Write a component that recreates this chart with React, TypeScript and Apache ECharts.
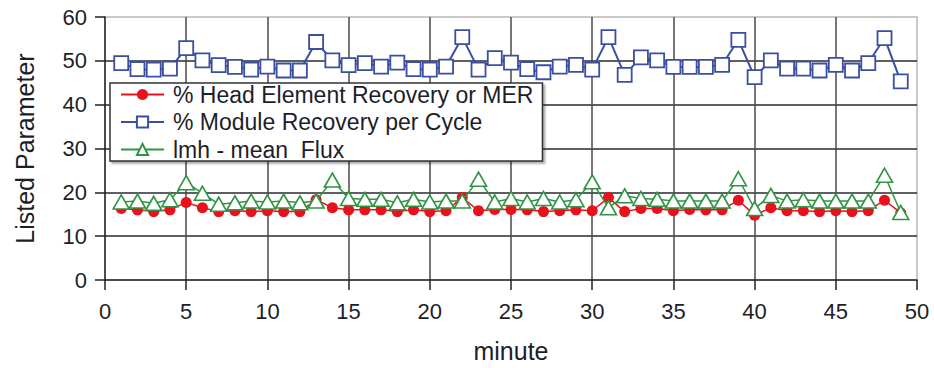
import React, { useEffect, useRef } from "react";
import * as echarts from "echarts";

const minutes = [1, 2, 3, 4, 5, 6, 7, 8, 9, 10, 11, 12, 13, 14, 15, 16, 17, 18, 19, 20, 21, 22, 23, 24, 25, 26, 27, 28, 29, 30, 31, 32, 33, 34, 35, 36, 37, 38, 39, 40, 41, 42, 43, 44, 45, 46, 47, 48, 49];

const headRecovery = [16.3, 16.0, 15.6, 16.0, 17.7, 16.5, 15.6, 15.8, 15.6, 15.8, 15.6, 15.6, 18.3, 16.5, 16.0, 16.0, 16.0, 15.6, 16.0, 15.6, 15.8, 18.8, 15.8, 16.1, 16.1, 16.0, 15.6, 15.8, 16.0, 15.8, 18.8, 15.6, 16.3, 16.3, 15.8, 16.1, 16.0, 16.0, 18.2, 14.8, 16.5, 15.8, 15.8, 15.6, 15.8, 15.6, 15.8, 18.2, 15.3];

const moduleRecovery = [49.5, 48.1, 48.0, 48.2, 52.9, 50.1, 49.0, 48.6, 48.0, 48.7, 47.8, 47.8, 54.3, 50.1, 49.0, 49.5, 48.7, 49.6, 48.1, 48.0, 48.7, 55.4, 48.0, 50.6, 49.6, 48.1, 47.4, 48.7, 49.1, 48.0, 55.4, 46.8, 50.8, 50.1, 48.6, 48.6, 48.6, 49.1, 54.8, 46.3, 50.1, 48.2, 48.2, 47.8, 49.1, 47.8, 49.5, 55.2, 45.3];

const meanFlux = [17.8, 18.0, 17.5, 18.3, 22.2, 19.8, 17.3, 17.6, 18.0, 17.8, 18.0, 17.6, 18.0, 22.8, 18.6, 18.4, 18.4, 17.6, 18.4, 17.8, 18.0, 18.0, 23.0, 17.8, 18.6, 17.8, 18.6, 17.8, 18.3, 22.4, 16.5, 19.2, 18.6, 18.4, 18.0, 18.0, 18.0, 18.0, 23.1, 16.3, 19.3, 18.0, 18.3, 18.0, 18.0, 18.0, 18.0, 23.9, 15.4];

const seriesNames = [
  "% Head Element Recovery or MER",
  "% Module Recovery per Cycle",
  "lmh - mean  Flux",
];

const xTicks = { min: 0, max: 50, interval: 5 };
const yTicks = { min: 0, max: 60, interval: 10 };

const RED = "#e8121c";
const BLUE = "#3a4ea2";
const GREEN = "#2f9444";
const FONT = "'Liberation Sans', Arial, sans-serif";
const TEXT = "#1e1e28";

export default function App() {
  const ref = useRef<HTMLDivElement>(null);
  useEffect(() => {
    if (!ref.current) return;
    const chart = echarts.init(ref.current, undefined, { renderer: "svg" });
    const pair = (arr: number[]) => minutes.map((m, i) => [m, arr[i]]);
    chart.setOption({
      animation: false,
      backgroundColor: "#ffffff",
      textStyle: { fontFamily: FONT },
      grid: {
        left: 105,
        right: 17,
        top: 17,
        bottom: 87,
        show: true,
        borderColor: "#b8b8b8",
        borderWidth: 1.5,
      },
      legend: {
        orient: "vertical",
        left: 110,
        top: 83,
        itemWidth: 43,
        itemHeight: 14,
        itemGap: 4.5,
        padding: [0, 9, 0, 10],
        backgroundColor: "#ffffff",
        borderColor: "#333333",
        borderWidth: 1.5,
        borderRadius: 0,
        shadowColor: "rgba(0,0,0,0.35)",
        shadowBlur: 2,
        shadowOffsetX: 2,
        shadowOffsetY: 2,
        textStyle: { fontSize: 23, lineHeight: 23, color: TEXT, fontFamily: FONT, padding: [0, 0, 0, 4] },
        data: seriesNames,
      },
      xAxis: {
        type: "value",
        min: xTicks.min,
        max: xTicks.max,
        interval: xTicks.interval,
        name: "minute",
        nameLocation: "middle",
        nameGap: 58,
        nameTextStyle: { fontSize: 25, color: TEXT, fontFamily: FONT },
        axisLine: { lineStyle: { color: "#222", width: 1.5 } },
        axisTick: { show: true, length: 10, lineStyle: { color: "#222", width: 1.5 } },
        axisLabel: { fontSize: 22, color: TEXT, margin: 20, fontFamily: FONT },
        splitLine: {
          show: true,
          showMinLine: false,
          showMaxLine: false,
          lineStyle: { color: "#4a4a4a", width: 1.5 },
        },
      },
      yAxis: {
        type: "value",
        min: yTicks.min,
        max: yTicks.max,
        interval: yTicks.interval,
        name: "Listed Parameter",
        nameLocation: "middle",
        nameGap: 68,
        nameTextStyle: { fontSize: 25, color: TEXT, fontFamily: FONT },
        axisLine: { show: true, lineStyle: { color: "#222", width: 1.5 } },
        axisTick: { show: true, length: 10, lineStyle: { color: "#222", width: 1.5 } },
        axisLabel: { fontSize: 22, color: TEXT, margin: 18, fontFamily: FONT },
        splitLine: {
          show: true,
          showMinLine: false,
          showMaxLine: false,
          lineStyle: { color: "#2a2a2a", width: 1.5 },
        },
      },
      series: [
        {
          name: seriesNames[0],
          type: "line",
          data: pair(headRecovery),
          symbol: "circle",
          symbolSize: 11,
          lineStyle: { color: RED, width: 1.5 },
          itemStyle: { color: RED, borderColor: RED, borderWidth: 0 },
          z: 2,
        },
        {
          name: seriesNames[1],
          type: "line",
          data: pair(moduleRecovery),
          symbol: "rect",
          symbolSize: 14,
          lineStyle: { color: BLUE, width: 2 },
          itemStyle: { color: "#ffffff", borderColor: BLUE, borderWidth: 1.8 },
          z: 3,
        },
        {
          name: seriesNames[2],
          type: "line",
          data: pair(meanFlux),
          symbol: "triangle",
          symbolSize: [16, 14],
          lineStyle: { color: GREEN, width: 1.5 },
          itemStyle: { color: "#ffffff", borderColor: GREEN, borderWidth: 1.6 },
          z: 4,
        },
      ],
    });
    return () => chart.dispose();
  }, []);
  return <div ref={ref} style={{ width: 934, height: 368, position: "absolute", left: 0, top: 0 }} />;
}
